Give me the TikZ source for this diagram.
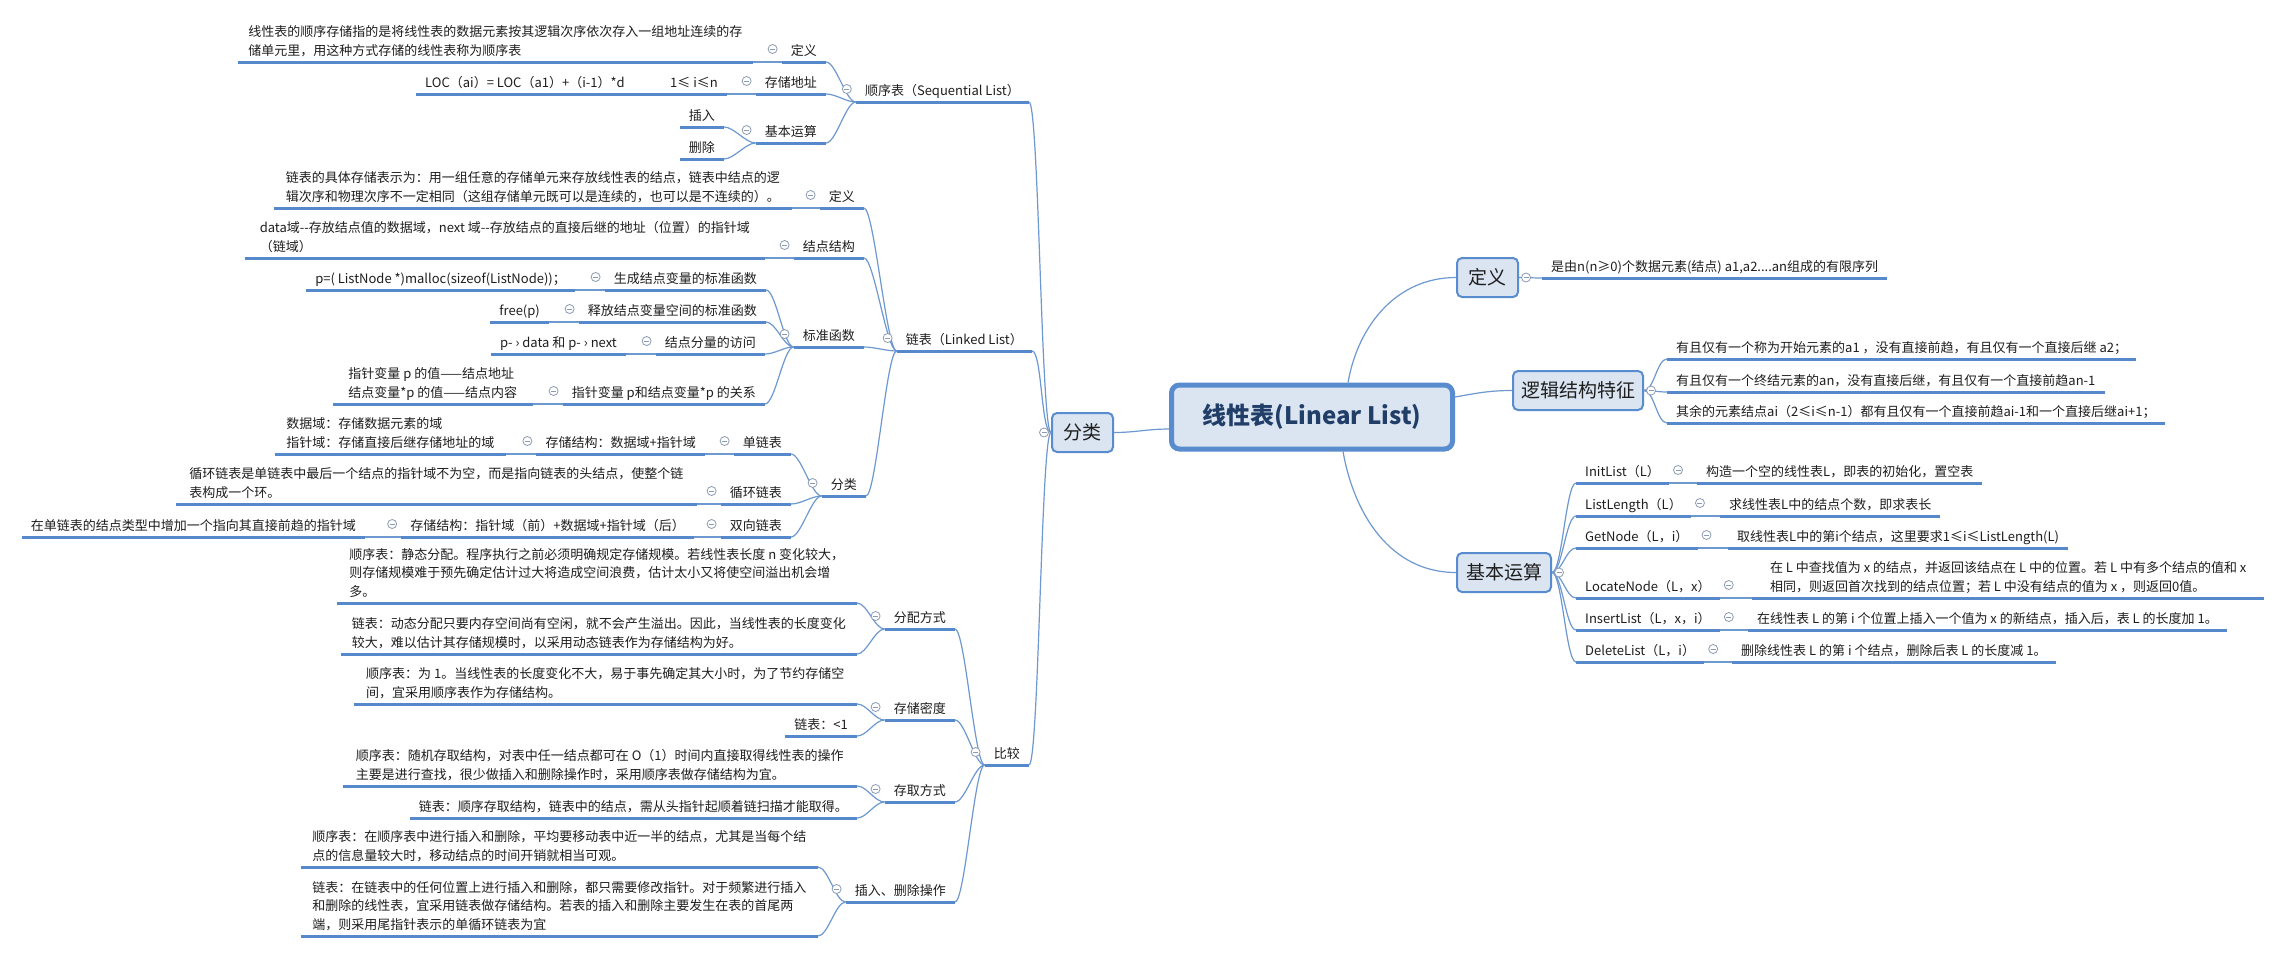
\documentclass[tikz,border=0pt]{standalone}
\usepackage{fontspec}
\setmainfont{Noto Sans CJK SC}
\definecolor{lineblue}{RGB}{85,137,204}
\definecolor{linkblue}{RGB}{110,152,208}
\definecolor{boxfill}{RGB}{219,229,242}
\definecolor{boxdraw}{RGB}{88,140,206}
\definecolor{roottext}{RGB}{33,62,104}
\definecolor{foldgray}{RGB}{140,155,180}
\definecolor{textgray}{RGB}{30,30,30}

\begin{document}
\begin{tikzpicture}[x=1pt, y=-1pt,
  uline/.style={draw=lineblue, line width=3pt},
  topic/.style={font=\fontsize{13pt}{18.5pt}\selectfont, text=textgray,
    inner xsep=9pt, inner ysep=3pt, text depth=3.5pt,
    append after command={(\tikzlastnode.south west) edge[uline] (\tikzlastnode.south east)}},
  multi/.style={topic, align=left},
  branch/.style={draw=boxdraw, fill=boxfill, line width=2pt, rounded corners=5pt,
    minimum height=39pt, font=\fontsize{19pt}{22pt}\selectfont, text=textgray},
  rootbox/.style={draw=boxdraw, fill=boxfill, line width=5pt, rounded corners=8pt,
    minimum width=281pt, minimum height=64pt,
    font=\fontsize{24pt}{28pt}\selectfont\bfseries, text=roottext},
  lnk/.style={draw=linkblue, line width=1.2pt},
  lft/.style={out=180, in=0, distance=10pt},
  rgt/.style={out=0, in=180, distance=10pt},
  fold/.style={circle, draw=foldgray, fill=white, line width=0.8pt, minimum size=9pt, inner sep=0pt,
    path picture={\draw[foldgray, line width=0.8pt]
      ([xshift=-2.5pt]path picture bounding box.center) -- ([xshift=2.5pt]path picture bounding box.center);}}
]
  \fill[white] (0,0) rectangle (2282,953);
  \useasboundingbox (0,0) rectangle (2282,953);

  % centre and main branches
  \node[rootbox] (root) at (1312,417) {线性表(Linear List)};
  \node[branch, minimum width=61pt] (def) at (1487.5,277.5) {定义};
  \node[branch, minimum width=130pt] (logic) at (1578,390.5) {逻辑结构特征};
  \node[branch, minimum width=94pt] (ops) at (1504,572.5) {基本运算};
  \node[branch, minimum width=61pt] (fenlei) at (1082.5,432.5) {分类};

  % right side
  \node[topic, anchor=south west] (deftxt) at (1542,278) {是由n(n≥0)个数据元素(结点) a1,a2....an组成的有限序列};
  \node[topic, anchor=south west] (lg1) at (1667,359) {有且仅有一个称为开始元素的a1 ，没有直接前趋，有且仅有一个直接后继 a2；};
  \node[topic, anchor=south west] (lg2) at (1667,392) {有且仅有一个终结元素的an，没有直接后继，有且仅有一个直接前趋an-1};
  \node[topic, anchor=south west] (lg3) at (1667,423) {其余的元素结点ai（2≤i≤n-1）都有且仅有一个直接前趋ai-1和一个直接后继ai+1；};

  \node[topic, anchor=south west] (init) at (1576,483) {InitList（L）};
  \node[topic, anchor=south west] (len) at (1576,516) {ListLength（L）};
  \node[topic, anchor=south west] (get) at (1576,548) {GetNode（L，i）};
  \node[topic, anchor=south west] (loc) at (1576,598) {LocateNode（L，x）};
  \node[topic, anchor=south west] (ins) at (1576,630) {InsertList（L，x，i）};
  \node[topic, anchor=south west] (del) at (1576,662) {DeleteList（L，i）};
  \node[topic, anchor=south west] (inittxt) at (1697,483) {构造一个空的线性表L，即表的初始化，置空表};
  \node[topic, anchor=south west] (lentxt) at (1720,516) {求线性表L中的结点个数，即求表长};
  \node[topic, anchor=south west] (gettxt) at (1728,548) {取线性表L中的第i个结点，这里要求1≤i≤ListLength(L)};
  \node[multi, anchor=south west, minimum width=512pt] (loctxt) at (1752,598)
    {在 L 中查找值为 x 的结点，并返回该结点在 L 中的位置。若 L 中有多个结点的值和 x\\相同，则返回首次找到的结点位置；若 L 中没有结点的值为 x ，则返回0值。};
  \node[topic, anchor=south west] (instxt) at (1748,630) {在线性表 L 的第 i 个位置上插入一个值为 x 的新结点，插入后，表 L 的长度加 1。};
  \node[topic, anchor=south west] (deltxt) at (1732,662) {删除线性表 L 的第 i 个结点，删除后表 L 的长度减 1。};

  % left side: sequential list
  \node[topic, anchor=south east] (seq) at (1029,102) {顺序表（Sequential List）};
  \node[topic, anchor=south east] (seqdef) at (826,62) {定义};
  \node[topic, anchor=south east] (seqaddr) at (826,94) {存储地址};
  \node[topic, anchor=south east] (seqop) at (826,143) {基本运算};
  \node[multi, anchor=south east, minimum width=515pt] (seqdeftxt) at (753,62)
    {线性表的顺序存储指的是将线性表的数据元素按其逻辑次序依次存入一组地址连续的存\\储单元里，用这种方式存储的线性表称为顺序表};
  \node[topic, anchor=south east] (seqaddrtxt) at (727,94) {LOC（ai）= LOC（a1）+（i-1）*d\hspace{3.5em}1≤ i≤n};
  \node[topic, anchor=south east] (seqins) at (724,127) {插入};
  \node[topic, anchor=south east] (seqdel) at (724,159) {删除};

  % left side: linked list
  \node[topic, anchor=south east] (link) at (1032,351) {链表（Linked List）};
  \node[topic, anchor=south east] (linkdef) at (864,208) {定义};
  \node[topic, anchor=south east] (linkstruct) at (864,258) {结点结构};
  \node[topic, anchor=south east] (linkfunc) at (864,347) {标准函数};
  \node[topic, anchor=south east] (linkcls) at (866,496) {分类};
  \node[multi, anchor=south east, minimum width=518pt] (linkdeftxt) at (792,208)
    {链表的具体存储表示为：用一组任意的存储单元来存放线性表的结点，链表中结点的逻\\辑次序和物理次序不一定相同（这组存储单元既可以是连续的，也可以是不连续的）。};
  \node[multi, anchor=south east, minimum width=520pt] (linkstructtxt) at (765,258)
    {data域-{}-存放结点值的数据域，next~域-{}-存放结点的直接后继的地址（位置）的指针域\\（链域）};
  \node[topic, anchor=south east] (fnnew) at (766,290) {生成结点变量的标准函数};
  \node[topic, anchor=south east] (fnfree) at (766,322) {释放结点变量空间的标准函数};
  \node[topic, anchor=south east] (fnacc) at (765,354) {结点分量的访问};
  \node[topic, anchor=south east] (fnrel) at (765,404) {指针变量 p和结点变量*p 的关系};
  \node[topic, anchor=south east] (fnnewtxt) at (575,290) {p=( ListNode *)malloc(sizeof(ListNode))；};
  \node[topic, anchor=south east] (fnfreetxt) at (549,322) {free(p)};
  \node[topic, anchor=south east] (fnacctxt) at (626,354) {p- › data 和 p- › next};
  \node[multi, anchor=south east, minimum width=200pt] (fnreltxt) at (533,404)
    {指针变量 p 的值——结点地址\\结点变量*p 的值——结点内容};
  \node[topic, anchor=south east] (single) at (791,454) {单链表};
  \node[topic, anchor=south east] (circ) at (791,504) {循环链表};
  \node[topic, anchor=south east] (dbl) at (791,537) {双向链表};
  \node[topic, anchor=south east] (singlest) at (705,454) {存储结构：数据域+指针域};
  \node[multi, anchor=south east, minimum width=231pt] (singletxt) at (506,454)
    {数据域：存储数据元素的域\\指针域：存储直接后继存储地址的域};
  \node[multi, anchor=south east, minimum width=521pt] (circtxt) at (697,504)
    {循环链表是单链表中最后一个结点的指针域不为空，而是指向链表的头结点，使整个链\\表构成一个环。};
  \node[topic, anchor=south east] (dblst) at (694,537) {存储结构：指针域（前）+数据域+指针域（后）};
  \node[topic, anchor=south east] (dbltxt) at (365,537) {在单链表的结点类型中增加一个指向其直接前趋的指针域};

  % left side: comparison
  \node[topic, anchor=south east] (cmp) at (1029,765) {比较};
  \node[topic, anchor=south east] (alloc) at (955,629) {分配方式};
  \node[topic, anchor=south east] (density) at (955,720) {存储密度};
  \node[topic, anchor=south east] (access) at (955,802) {存取方式};
  \node[topic, anchor=south east] (insdel) at (955,902) {插入、删除操作};
  \node[multi, anchor=south east, minimum width=520pt] (allocseq) at (857,603)
    {顺序表：静态分配。程序执行之前必须明确规定存储规模。若线性表长度 n 变化较大，\\则存储规模难于预先确定估计过大将造成空间浪费，估计太小又将使空间溢出机会增\\多。};
  \node[multi, anchor=south east, minimum width=516pt] (alloclnk) at (857,654)
    {链表：动态分配只要内存空间尚有空闲，就不会产生溢出。因此，当线性表的长度变化\\较大，难以估计其存储规模时，以采用动态链表作为存储结构为好。};
  \node[multi, anchor=south east, minimum width=503pt] (denseq) at (857,704)
    {顺序表：为 1。当线性表的长度变化不大，易于事先确定其大小时，为了节约存储空\\间，宜采用顺序表作为存储结构。};
  \node[topic, anchor=south east] (denlnk) at (857,736) {链表：<1};
  \node[multi, anchor=south east, minimum width=514pt] (accseq) at (857,786)
    {顺序表：随机存取结构，对表中任一结点都可在 O（1）时间内直接取得线性表的操作\\主要是进行查找，很少做插入和删除操作时，采用顺序表做存储结构为宜。};
  \node[topic, anchor=south east] (acclnk) at (857,818) {链表：顺序存取结构，链表中的结点，需从头指针起顺着链扫描才能取得。};
  \node[multi, anchor=south east, minimum width=517pt] (insseq) at (818,867)
    {顺序表：在顺序表中进行插入和删除，平均要移动表中近一半的结点，尤其是当每个结\\点的信息量较大时，移动结点的时间开销就相当可观。};
  \node[multi, anchor=south east, minimum width=517pt] (inslnk) at (818,936)
    {链表：在链表中的任何位置上进行插入和删除，都只需要修改指针。对于频繁进行插入\\和删除的线性表，宜采用链表做存储结构。若表的插入和删除主要发生在表的首尾两\\端，则采用尾指针表示的单循环链表为宜};

  % connectors from the centre
  \draw[lnk] ([xshift=36pt]root.north) to[out=80, in=180] (def.west);
  \draw[lnk] ([yshift=20pt]root.east) to[out=10, in=180] (logic.west);
  \draw[lnk] ([xshift=31pt]root.south) to[out=-80, in=180] (ops.west);
  \draw[lnk] ([yshift=-12pt]root.west) to[out=180, in=0] (fenlei.east);

  % right connectors
  \draw[lnk] (def.east) to[rgt] (deftxt.south west);
  \draw[lnk] (logic.east) to[rgt] (lg1.south west);
  \draw[lnk] (logic.east) to[rgt] (lg2.south west);
  \draw[lnk] (logic.east) to[rgt] (lg3.south west);
  \foreach \n in {init,len,get,loc,ins,del} {
    \draw[lnk] (ops.east) to[rgt] (\n.south west);
    \draw[lnk] (\n.south east) -- (\n txt.south west);
  }

  % left connectors
  \draw[lnk] (fenlei.west) to[lft] (seq.south east);
  \draw[lnk] (fenlei.west) to[lft] (link.south east);
  \draw[lnk] (fenlei.west) to[lft] (cmp.south east);
  \draw[lnk] (seq.south west) to[lft] (seqdef.south east);
  \draw[lnk] (seq.south west) to[lft] (seqaddr.south east);
  \draw[lnk] (seq.south west) to[lft] (seqop.south east);
  \draw[lnk] (seqdef.south west) -- (seqdeftxt.south east);
  \draw[lnk] (seqaddr.south west) -- (seqaddrtxt.south east);
  \draw[lnk] (seqop.south west) to[lft] (seqins.south east);
  \draw[lnk] (seqop.south west) to[lft] (seqdel.south east);
  \draw[lnk] (link.south west) to[lft] (linkdef.south east);
  \draw[lnk] (link.south west) to[lft] (linkstruct.south east);
  \draw[lnk] (link.south west) to[lft] (linkfunc.south east);
  \draw[lnk] (link.south west) to[lft] (linkcls.south east);
  \draw[lnk] (linkdef.south west) -- (linkdeftxt.south east);
  \draw[lnk] (linkstruct.south west) -- (linkstructtxt.south east);
  \draw[lnk] (linkfunc.south west) to[lft] (fnnew.south east);
  \draw[lnk] (linkfunc.south west) to[lft] (fnfree.south east);
  \draw[lnk] (linkfunc.south west) to[lft] (fnacc.south east);
  \draw[lnk] (linkfunc.south west) to[lft] (fnrel.south east);
  \draw[lnk] (fnnew.south west) -- (fnnewtxt.south east);
  \draw[lnk] (fnfree.south west) -- (fnfreetxt.south east);
  \draw[lnk] (fnacc.south west) -- (fnacctxt.south east);
  \draw[lnk] (fnrel.south west) -- (fnreltxt.south east);
  \draw[lnk] (linkcls.south west) to[lft] (single.south east);
  \draw[lnk] (linkcls.south west) to[lft] (circ.south east);
  \draw[lnk] (linkcls.south west) to[lft] (dbl.south east);
  \draw[lnk] (single.south west) -- (singlest.south east);
  \draw[lnk] (singlest.south west) -- (singletxt.south east);
  \draw[lnk] (circ.south west) -- (circtxt.south east);
  \draw[lnk] (dbl.south west) -- (dblst.south east);
  \draw[lnk] (dblst.south west) -- (dbltxt.south east);
  \draw[lnk] (cmp.south west) to[lft] (alloc.south east);
  \draw[lnk] (cmp.south west) to[lft] (density.south east);
  \draw[lnk] (cmp.south west) to[lft] (access.south east);
  \draw[lnk] (cmp.south west) to[lft] (insdel.south east);
  \draw[lnk] (alloc.south west) to[lft] (allocseq.south east);
  \draw[lnk] (alloc.south west) to[lft] (alloclnk.south east);
  \draw[lnk] (density.south west) to[lft] (denseq.south east);
  \draw[lnk] (density.south west) to[lft] (denlnk.south east);
  \draw[lnk] (access.south west) to[lft] (accseq.south east);
  \draw[lnk] (access.south west) to[lft] (acclnk.south east);
  \draw[lnk] (insdel.south west) to[lft] (insseq.south east);
  \draw[lnk] (insdel.south west) to[lft] (inslnk.south east);

  % collapse markers
  \node[fold] (fdef) at ([xshift=7pt]def.east) {};
  \node[fold] (flogic) at ([xshift=7pt]logic.east) {};
  \node[fold] (fops) at ([xshift=7pt]ops.east) {};
  \node[fold] (ffenlei) at ([xshift=-7pt]fenlei.west) {};
  \foreach \n in {init,len,get,loc,ins,del}
    \node[fold] (f\n) at ([shift={(9pt,13pt)}]\n.south east) {};
  \foreach \n in {seq,link,cmp,seqdef,seqaddr,seqop,linkdef,linkstruct,linkfunc,linkcls,
    fnnew,fnfree,fnacc,fnrel,single,singlest,circ,dbl,dblst,alloc,density,access,insdel}
    \node[fold] (f\n) at ([shift={(-9pt,13pt)}]\n.south west) {};
\end{tikzpicture}
\end{document}
